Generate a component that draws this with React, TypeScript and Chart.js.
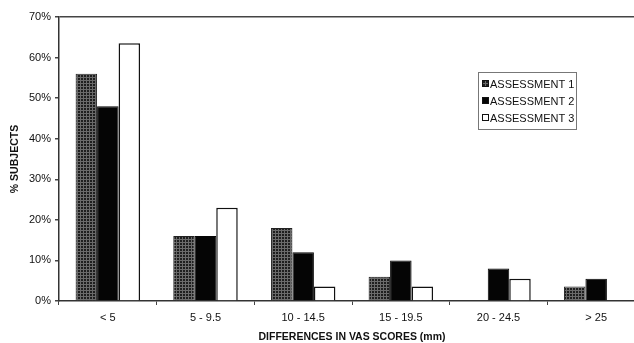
import React, { useEffect, useRef } from "react";
import { Chart, registerables } from "chart.js";

Chart.register(...registerables);

const categories = ["< 5", "5 - 9.5", "10 - 14.5", "15 - 19.5", "20 - 24.5", "> 25"];
const assessment1 = [56, 16, 18, 6, 0, 3.6];
const assessment2 = [48, 16, 12, 10, 8, 5.5];
const assessment3 = [63.5, 23, 3.6, 3.6, 5.5, 0];
const seriesLabels = ["ASSESSMENT 1", "ASSESSMENT 2", "ASSESSMENT 3"];
const yTicks = [0, 10, 20, 30, 40, 50, 60, 70];

function makePattern(): CanvasPattern | string {
  const c = document.createElement("canvas");
  c.width = 3;
  c.height = 3;
  const g = c.getContext("2d");
  if (!g) return "#333";
  g.fillStyle = "#6a6a6a";
  g.fillRect(0, 0, 3, 3);
  g.fillStyle = "#1e1e1e";
  g.fillRect(0, 0, 2, 2);
  const p = g.createPattern(c, "repeat");
  return p || "#333";
}

const legendPlugin = {
  id: "boxLegend",
  afterDraw(chart: any) {
    const ctx = chart.ctx;
    const x = 478, y = 72, w = 98, h = 57;
    ctx.save();
    ctx.strokeStyle = "#777";
    ctx.lineWidth = 1;
    ctx.strokeRect(x + 0.5, y + 0.5, w, h);
    ctx.font = "11px 'Liberation Sans', Arial, sans-serif";
    ctx.textBaseline = "middle";
    chart.data.datasets.forEach((ds: any, i: number) => {
      const ly = y + 12 + i * 17;
      ctx.fillStyle = ds.backgroundColor;
      ctx.fillRect(x + 4, ly - 4, 7, 7);
      ctx.strokeStyle = "#111";
      ctx.strokeRect(x + 4.5, ly - 3.5, 6, 6);
      ctx.fillStyle = "#111";
      ctx.fillText(ds.label, x + 12, ly + 0.5);
    });
    ctx.restore();
  },
};

export default function App() {
  const ref = useRef<HTMLCanvasElement | null>(null);
  useEffect(() => {
    if (!ref.current) return;
    const pattern = makePattern();
    const font = { family: "'Liberation Sans', Arial, sans-serif", size: 11 };
    const chart = new Chart(ref.current, {
      type: "bar",
      data: {
        labels: categories,
        datasets: [
          { label: seriesLabels[0], data: assessment1, backgroundColor: pattern as any, borderColor: "#222", borderWidth: 1 },
          { label: seriesLabels[1], data: assessment2, backgroundColor: "#050505", borderColor: "#050505", borderWidth: 1 },
          { label: seriesLabels[2], data: assessment3, backgroundColor: "#ffffff", borderColor: "#111", borderWidth: 1.5 },
        ],
      },
      options: {
        responsive: false,
        animation: false,
        layout: { padding: { top: 17, right: 0, left: 0, bottom: 0 } },
        datasets: { bar: { categoryPercentage: 0.66, barPercentage: 1 } },
        plugins: { legend: { display: false }, tooltip: { enabled: false } },
        scales: {
          x: {
            afterFit: (s: any) => {
              s.height = 42;
            },
            grid: { offset: true, drawOnChartArea: false, drawTicks: true, tickLength: 4, tickColor: "#444" },
            border: { color: "#333", width: 1.5 },
            ticks: { color: "#111", font, padding: 6 },
            title: {
              display: true,
              text: "DIFFERENCES IN VAS SCORES (mm)",
              color: "#111",
              font: { family: font.family, size: 10.5, weight: "bold" },
              padding: { top: 2, bottom: 0 },
            },
          },
          y: {
            min: 0,
            max: 70,
            afterBuildTicks: (s: any) => {
              s.ticks = yTicks.map((v) => ({ value: v }));
            },
            afterFit: (s: any) => {
              s.width = 59;
            },
            grid: {
              color: (c: any) => (c.tick && c.tick.value === 70 ? "#444" : "rgba(0,0,0,0)"),
              lineWidth: 1.5,
              drawTicks: true,
              tickLength: 4,
              tickColor: "#444",
            },
            border: { color: "#333", width: 1.5 },
            ticks: { color: "#111", font, padding: 4, callback: (v: any) => v + "%" },
            title: {
              display: true,
              text: "% SUBJECTS",
              color: "#111",
              font: { family: font.family, size: 10.5, weight: "bold" },
              padding: { top: 9, bottom: 2 },
            },
          },
        },
      },
      plugins: [legendPlugin],
    });
    return () => chart.destroy();
  }, []);
  return (
    <div style={{ position: "fixed", left: 0, top: 0, width: 634, height: 343, overflow: "hidden", background: "#fff" }}>
      <canvas ref={ref} width={645} height={343} style={{ display: "block" }} />
    </div>
  );
}
